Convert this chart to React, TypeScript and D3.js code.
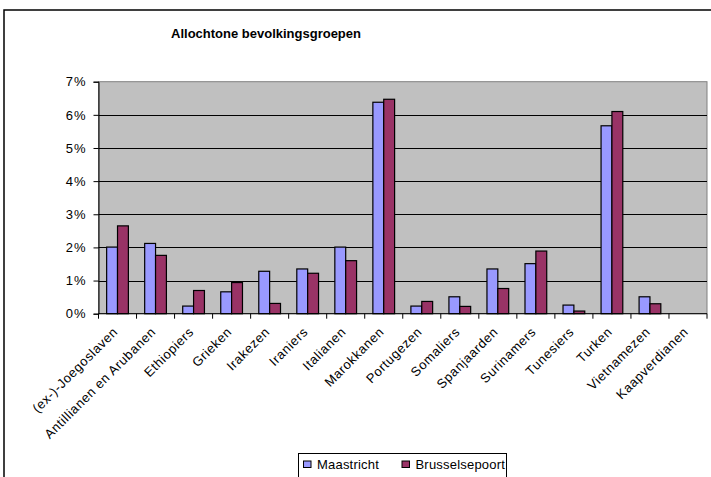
import React, { useRef, useEffect } from "react";
import * as d3 from "d3";

const categories = [
  "(ex-)-Joegoslaven", "Antillianen en Arubanen", "Ethiopiers", "Grieken", "Irakezen",
  "Iraniers", "Italianen", "Marokkanen", "Portugezen", "Somaliers", "Spanjaarden",
  "Surinamers", "Tunesiers", "Turken", "Vietnamezen", "Kaapverdianen",
];
const seriesNames = ["Maastricht", "Brusselsepoort"];
const maastricht = [2.01, 2.12, 0.23, 0.66, 1.28, 1.35, 2.01, 6.38, 0.23, 0.51, 1.35, 1.51, 0.26, 5.67, 0.51, 0];
const brusselsepoort = [2.65, 1.76, 0.7, 0.94, 0.31, 1.22, 1.6, 6.47, 0.37, 0.22, 0.76, 1.89, 0.08, 6.1, 0.3, 0];
const yTicks = [0, 1, 2, 3, 4, 5, 6, 7];

const W = 711;
const H = 477;
const plot = { left: 98.5, right: 707, top: 81.7, bottom: 313.7 };
const colors = ["#9999FF", "#993366"];
const FONT = "'Liberation Sans', Arial, sans-serif";

const App = () => {
  const svgRef = useRef<SVGSVGElement>(null);

  useEffect(() => {
    const svg = d3.select(svgRef.current);
    svg.selectAll("*").remove();

    const x = d3.scaleBand().domain(categories).range([plot.left, plot.right]).padding(0);
    const y = d3.scaleLinear().domain([0, 7]).range([plot.bottom, plot.top]);
    const barW = x.bandwidth() / 3.5;

    // outer chart frame
    svg.append("rect")
      .attr("x", 4).attr("y", 10).attr("width", W + 20).attr("height", H + 20)
      .attr("fill", "white").attr("stroke", "#000").attr("stroke-width", 1.5);

    svg.append("text")
      .attr("x", 266).attr("y", 37.5)
      .attr("text-anchor", "middle")
      .style("font-family", FONT).style("font-size", "13px").style("font-weight", "bold")
      .text("Allochtone bevolkingsgroepen");

    // plot area
    svg.append("rect")
      .attr("x", plot.left).attr("y", plot.top)
      .attr("width", plot.right - plot.left).attr("height", plot.bottom - plot.top)
      .attr("fill", "#C0C0C0").attr("stroke", "#808080").attr("stroke-width", 1);

    // gridlines
    svg.append("g").selectAll("line")
      .data(yTicks.filter(t => t > 0 && t < 7))
      .join("line")
      .attr("x1", plot.left).attr("x2", plot.right)
      .attr("y1", d => Math.round(y(d)) + 0.5).attr("y2", d => Math.round(y(d)) + 0.5)
      .attr("stroke", "#000").attr("stroke-width", 1);

    // bars
    const groups = svg.append("g").selectAll("g")
      .data(categories)
      .join("g")
      .attr("transform", d => `translate(${x(d)! + x.bandwidth() * 0.75 / 3.5},0)`);

    [maastricht, brusselsepoort].forEach((vals, si) => {
      groups.append("rect")
        .attr("x", si * barW)
        .attr("y", (_, i) => y(vals[i]))
        .attr("width", barW)
        .attr("height", (_, i) => plot.bottom - y(vals[i]))
        .attr("fill", colors[si])
        .attr("stroke", (_, i) => (vals[i] > 0 ? "#000" : "none"))
        .attr("stroke-width", 1.2);
    });

    // y axis
    const yAxis = svg.append("g")
      .attr("transform", `translate(${plot.left},0)`)
      .call(d3.axisLeft(y).tickValues(yTicks).tickSize(5).tickPadding(7).tickFormat(d => `${d}%`));
    yAxis.select(".domain").attr("stroke", "#000");
    yAxis.selectAll("line").attr("stroke", "#000");
    yAxis.selectAll("text")
      .style("font-family", FONT).style("font-size", "13px").style("letter-spacing", "1px").attr("fill", "#000");

    // x axis
    const xAxis = svg.append("g").attr("transform", `translate(0,${plot.bottom})`);
    xAxis.append("line")
      .attr("x1", plot.left).attr("x2", plot.right)
      .attr("stroke", "#000");
    xAxis.selectAll(".tick")
      .data(d3.range(categories.length + 1))
      .join("line")
      .attr("x1", i => plot.left + i * x.step()).attr("x2", i => plot.left + i * x.step())
      .attr("y1", 0).attr("y2", 5)
      .attr("stroke", "#000");
    xAxis.selectAll("text")
      .data(categories)
      .join("text")
      .attr("transform", d => `translate(${x(d)! + x.bandwidth() / 2 + 1},19) rotate(-45)`)
      .attr("text-anchor", "end")
      .style("font-family", FONT).style("font-size", "13px").style("letter-spacing", "0.6px")
      .text(d => d);

    // legend
    const lg = svg.append("g");
    lg.append("rect")
      .attr("x", 298.5).attr("y", 453.5).attr("width", 208).attr("height", 40)
      .attr("fill", "white").attr("stroke", "#000");
    const legendX = [303.5, 402];
    seriesNames.forEach((name, i) => {
      lg.append("rect")
        .attr("x", legendX[i]).attr("y", 461).attr("width", 7.5).attr("height", 6.5)
        .attr("fill", colors[i]).attr("stroke", "#000");
      lg.append("text")
        .attr("x", legendX[i] + 13.5).attr("y", 469)
        .style("font-family", FONT).style("font-size", "13px").style("letter-spacing", "0.2px")
        .text(name);
    });
  }, []);

  return (
    <div style={{ position: "absolute", left: 0, top: 0, width: W, height: H, overflow: "hidden", background: "white" }}>
      <svg ref={svgRef} width={W} height={H}></svg>
    </div>
  );
};

export default App;
